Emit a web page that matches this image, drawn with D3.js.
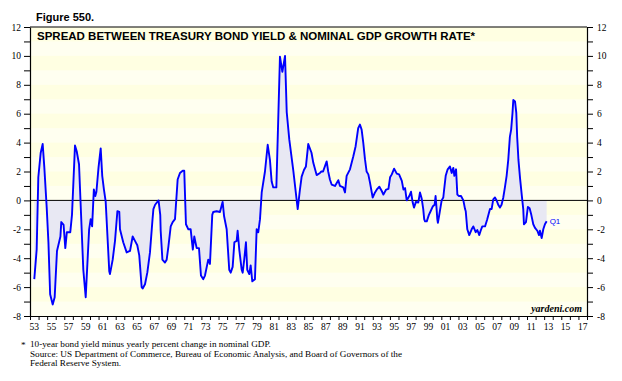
<!DOCTYPE html>
<html><head><meta charset="utf-8">
<script src="https://cdn.jsdelivr.net/npm/d3@7"></script>
<style>body{margin:0;background:#fff}svg{display:block}</style>
</head><body><svg id="c" width="622" height="381"></svg>
<script>
const years = [1953.50,1953.78,1953.97,1954.25,1954.48,1954.67,1954.95,1955.15,1955.35,1955.65,1955.88,1956.15,1956.55,1956.65,1956.92,1957.12,1957.30,1957.70,1957.90,1958.25,1958.45,1958.72,1959.22,1959.50,1959.90,1960.08,1960.25,1960.45,1960.62,1960.75,1961.00,1961.25,1961.43,1961.63,1961.83,1962.25,1962.33,1962.65,1962.92,1963.20,1963.42,1963.50,1963.88,1964.28,1964.67,1964.98,1965.25,1965.52,1965.75,1966.03,1966.15,1966.42,1966.69,1967.00,1967.30,1967.40,1967.60,1968.00,1968.20,1968.25,1968.45,1968.75,1968.95,1969.15,1969.42,1969.65,1969.92,1970.23,1970.50,1970.82,1971.00,1971.20,1971.48,1971.75,1972.00,1972.17,1972.45,1972.72,1972.95,1973.22,1973.42,1973.80,1974.00,1974.27,1974.38,1974.78,1975.17,1975.48,1975.65,1975.95,1976.25,1976.42,1976.65,1976.85,1977.12,1977.23,1977.42,1977.70,1977.82,1978.00,1978.20,1978.35,1978.59,1978.75,1978.94,1979.25,1979.45,1979.64,1979.84,1980.04,1980.42,1980.74,1981.00,1981.20,1981.39,1981.75,1982.17,1982.45,1982.76,1982.96,1983.26,1983.72,1984.24,1984.50,1984.70,1984.97,1985.20,1985.47,1985.85,1986.06,1986.45,1986.84,1987.00,1987.20,1987.62,1987.80,1988.00,1988.20,1988.59,1988.98,1989.17,1989.56,1989.76,1989.95,1990.34,1990.73,1991.00,1991.30,1991.50,1991.70,1991.89,1992.09,1992.28,1992.48,1992.67,1992.99,1993.26,1993.53,1993.77,1994.05,1994.24,1994.56,1994.83,1995.02,1995.22,1995.49,1995.80,1996.07,1996.39,1996.58,1996.77,1996.96,1997.26,1997.46,1997.66,1997.81,1998.04,1998.31,1998.51,1998.70,1998.89,1999.00,1999.10,1999.30,1999.55,1999.75,2000.02,2000.22,2000.33,2000.45,2000.53,2000.60,2000.76,2001.04,2001.23,2001.31,2001.51,2001.74,2002.01,2002.21,2002.40,2002.52,2002.72,2002.87,2003.06,2003.30,2003.57,2003.77,2003.85,2004.03,2004.26,2004.54,2004.73,2005.01,2005.20,2005.43,2005.59,2005.78,2006.10,2006.36,2006.56,2006.68,2006.87,2007.06,2007.26,2007.45,2007.64,2007.84,2008.03,2008.23,2008.42,2008.62,2008.81,2009.00,2009.15,2009.30,2009.40,2009.60,2009.75,2009.85,2010.00,2010.20,2010.40,2010.56,2010.64,2010.88,2011.10,2011.30,2011.50,2011.73,2011.93,2012.20,2012.40,2012.51,2012.71,2012.90,2013.09,2013.29];
const spread = [-5.45,-3.4,1.6,3.3,3.9,2.3,-0.5,-2.9,-6.5,-7.2,-6.7,-3.5,-2.5,-1.5,-1.7,-3.3,-2.2,-2.2,-1.0,3.8,3.4,2.5,-4.8,-6.7,-2.0,-1.3,-1.8,0.75,0.3,0.6,2.3,3.6,1.7,0.75,-0.07,-4.9,-5.1,-4.1,-2.8,-0.74,-0.8,-2.0,-2.9,-3.6,-3.5,-2.5,-2.8,-3.1,-3.8,-6.0,-6.1,-5.8,-5.0,-3.6,-1.3,-0.6,-0.3,0.0,-1.0,-2.1,-4.1,-4.3,-4.1,-3.2,-1.8,-1.5,-1.3,1.45,1.9,2.05,2.05,-1.65,-2.0,-2.0,-3.4,-2.5,-3.3,-3.3,-5.2,-5.45,-5.2,-4.1,-4.4,-1.0,-0.8,-0.75,-0.8,-0.1,-1.1,-2.0,-4.8,-5.0,-4.6,-2.9,-2.8,-2.1,-3.4,-4.8,-5.0,-4.1,-2.9,-4.8,-5.1,-4.5,-5.6,-5.45,-2.0,-2.2,-1.3,0.55,2.0,3.85,2.8,1.3,0.9,0.9,9.95,8.9,10.0,6.1,4.2,2.1,-0.6,0.75,1.65,2.1,2.35,3.9,3.3,2.6,1.75,1.9,2.0,2.0,2.7,2.0,1.45,1.1,1.0,1.4,1.0,0.9,0.55,1.7,2.15,3.05,3.75,5.0,5.25,4.9,4.0,2.85,2.0,1.8,1.25,0.2,0.55,0.8,0.95,0.65,0.4,0.75,0.8,1.6,1.8,2.2,1.85,1.8,1.35,0.75,0.85,0.0,0.3,0.6,-0.15,-0.5,-0.1,-0.15,0.55,0.15,-0.6,-1.3,-1.45,-1.45,-1.0,-0.75,-0.4,-0.3,0.3,-0.6,-1.3,-1.55,-1.0,0.0,0.2,0.65,1.7,2.15,2.35,1.9,2.25,1.7,2.15,0.4,0.3,0.3,0.0,-0.6,-0.75,-2.0,-2.4,-2.0,-1.8,-2.2,-2.05,-2.4,-2.1,-1.8,-1.8,-1.3,-0.85,-0.6,-0.6,0.07,0.2,0.0,-0.3,-0.5,-0.3,0.2,0.9,1.7,2.8,4.4,4.9,6.0,6.95,6.85,6.05,4.4,2.8,1.45,0.3,-0.6,-1.65,-1.5,-0.45,-0.55,-1.0,-1.65,-1.9,-2.1,-2.4,-2.1,-2.6,-2.0,-1.65,-1.45];
const yTicks = d3.range(-8, 13, 1);
const xLabelYears = d3.range(1953, 2018, 2);
const xTickYears = d3.range(1953, 2019, 1);
const figureLabel = "Figure 550.";
const chartTitle = "SPREAD BETWEEN TREASURY BOND YIELD & NOMINAL GDP GROWTH RATE*";
const footLines = ["10-year bond yield minus yearly percent change in nominal GDP.",
  "Source: US Department of Commerce, Bureau of Economic Analysis, and Board of Governors of the",
  "Federal Reserve System."];
const lastLabel = "Q1";
const credit = "yardeni.com";

const svg = d3.select("#c");
const L = 30, R = 587, T = 27, B = 316;
const x = d3.scaleLinear().domain([1953, 2018]).range([L, R]);
const y = d3.scaleLinear().domain([-8, 12]).range([B, T]);

// background with stripes
svg.append("rect").attr("x", L).attr("y", T).attr("width", R - L).attr("height", B - T).attr("fill", "#ffffe2");
const bands = d3.range(-8, 12, 1);
svg.selectAll("rect.band").data(bands.filter((d, i) => i % 2 === 0)).join("rect")
  .attr("class", "band").attr("x", L).attr("width", R - L)
  .attr("y", d => y(d + 1)).attr("height", d => y(d) - y(d + 1)).attr("fill", "#fffff0");

// area
const data = years.map((d, i) => [d, spread[i]]);
svg.append("path").datum(data)
  .attr("d", d3.area().x(d => x(d[0])).y0(y(0)).y1(d => y(d[1])))
  .attr("fill", "#e8e8f3");

// zero line
svg.append("line").attr("x1", L).attr("x2", R).attr("y1", y(0)).attr("y2", y(0)).attr("stroke", "#000").attr("stroke-width", 1);

// line
svg.append("path").datum(data)
  .attr("d", d3.line().x(d => x(d[0])).y(d => y(d[1])))
  .attr("fill", "none").attr("stroke", "#0000ff").attr("stroke-width", 1.9).attr("stroke-linejoin", "round");

// top border
svg.append("line").attr("x1", L).attr("x2", R).attr("y1", T).attr("y2", T).attr("stroke", "#000").attr("stroke-width", 1.2);

const fmt = d => (d % 2 === 0 ? d : "");
const axL = svg.append("g").attr("transform", `translate(${L},0)`)
  .call(d3.axisLeft(y).tickValues(yTicks).tickFormat(fmt).tickSize(6).tickPadding(3).tickSizeOuter(0));
const axR = svg.append("g").attr("transform", `translate(${R},0)`)
  .call(d3.axisRight(y).tickValues(yTicks).tickFormat(fmt).tickSize(6).tickPadding(4).tickSizeOuter(0));
const axB = svg.append("g").attr("transform", `translate(0,${B})`)
  .call(d3.axisBottom(x).tickValues(xTickYears).tickFormat("").tickSize(4).tickSizeOuter(0));
svg.append("g").selectAll("text").data(xLabelYears).join("text")
  .attr("x", d => x(d + 0.5)).attr("y", B + 14).attr("text-anchor", "middle")
  .attr("font-family", "Liberation Serif, Times New Roman, serif").attr("font-size", 9.5)
  .text(d => String(d % 100).padStart(2, "0"));
[axL, axR, axB].forEach(g => {
  g.selectAll("path.domain").attr("stroke", "#000").attr("stroke-width", 1.2);
  g.selectAll("line").attr("stroke", "#000");
  g.selectAll("text").attr("font-family", "Liberation Serif, Times New Roman, serif").attr("font-size", 9.5).attr("fill", "#000");
});

// titles
svg.append("text").attr("x", 36).attr("y", 20.5).attr("font-family", "Liberation Sans, Arial, sans-serif")
  .attr("font-weight", "bold").attr("font-size", 11).text(figureLabel);
svg.append("text").attr("x", 37).attr("y", 40).attr("font-family", "Liberation Sans, Arial, sans-serif")
  .attr("font-weight", "bold").attr("font-size", 11.5).text(chartTitle);

// last label
svg.append("text").attr("x", x(years[years.length - 1]) + 3).attr("y", y(spread[spread.length - 1]) + 3)
  .attr("font-family", "Liberation Sans, Arial, sans-serif").attr("font-size", 8).attr("fill", "#0000ff").text(lastLabel);

// credit
svg.append("text").attr("x", 582).attr("y", 312).attr("text-anchor", "end")
  .attr("font-family", "Liberation Serif, Times New Roman, serif").attr("font-style", "italic").attr("font-weight", "bold")
  .attr("font-size", 10).text(credit);

// footnote
svg.append("text").attr("x", 21).attr("y", 348).attr("font-family", "Liberation Serif, Times New Roman, serif").attr("font-size", 9.2).text("*");
footLines.forEach((t, i) => {
  svg.append("text").attr("x", 30).attr("y", 347 + i * 9.5)
    .attr("font-family", "Liberation Serif, Times New Roman, serif").attr("font-size", 9.2).text(t);
});
</script></body></html>
